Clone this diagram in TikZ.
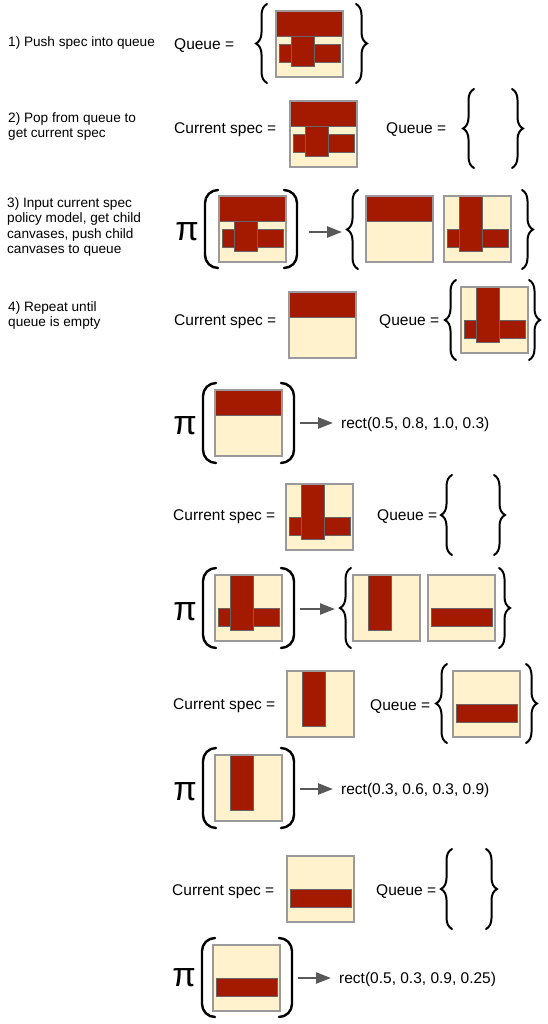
\documentclass[tikz,border=0pt]{standalone}
\usepackage{fontspec}
\setmainfont{Liberation Sans}
\usetikzlibrary{arrows.meta,decorations.pathreplacing}
\definecolor{cream}{HTML}{FFF2CC}
\definecolor{berry}{HTML}{A31A00}
\definecolor{rim}{HTML}{9A9A9A}
\definecolor{arrowgrey}{HTML}{595959}
\tikzset{
  sheet/.style={fill=cream},
  rimline/.style={draw=rim, line width=1.2pt},
  bar/.style={fill=berry, draw=black!60, line width=0.8pt},
  setbrace/.style={decorate, decoration={brace, amplitude=11pt}, line width=2pt, line cap=round},
  parline/.style={line width=2.4pt, rounded corners=13pt, line cap=round},
  flow/.style={draw=arrowgrey, line width=2.4pt, -{Triangle[length=15pt,width=11pt]}},
  steptext/.style={font=\fontsize{13.6}{15.6}\selectfont, align=left, anchor=north west, inner sep=0pt},
  label/.style={font=\fontsize{15.5}{18}\selectfont, anchor=base west, inner sep=0pt},
  result/.style={font=\fontsize{15.5}{18}\selectfont, anchor=base west, inner sep=0pt},
  policy/.style={font=\fontsize{34}{40}\selectfont, inner sep=0pt},
}
\def\spectop{\draw[bar] (0,0) rectangle (67,25.5);}
\def\specwide{\draw[bar] (3,33) rectangle (64,51);}
\def\spectall{\draw[bar] (15,0) rectangle (38,55);}
\def\canvas(#1,#2)#3{\begin{scope}[shift={(#1,#2)}]
  \fill[sheet] (0,0) rectangle (67,66); #3
  \draw[rimline] (0,0) rectangle (67,66);\end{scope}}
\def\openset(#1,#2,#3){\draw[setbrace] (#1,#3) -- (#1,#2);}
\def\closeset(#1,#2,#3){\draw[setbrace] (#1,#2) -- (#1,#3);}
\def\openpar(#1,#2,#3){\draw[parline] (#1+13,#2) -- (#1,#2) -- (#1,#3) -- (#1+13,#3);}
\def\closepar(#1,#2,#3){\draw[parline] (#1-13,#2) -- (#1,#2) -- (#1,#3) -- (#1-13,#3);}

\begin{document}
\begin{tikzpicture}[x=1pt,y=-1pt]
	%%%%% START %%%%%
	\useasboundingbox (0,0) rectangle (547,1024);
	
	\node[steptext] (step1) at (8,36) {1) Push spec into queue};
	\node[steptext] (step2) at (8,112) {2) Pop from queue to\\get current spec};
	\node[steptext] (step3) at (7,197) {3) Input current spec\\policy model, get child\\canvases, push child\\canvases to queue};
	\node[steptext] (step4) at (8,301) {4) Repeat until\\queue is empty};
	
	% 1
	\node[label] (q1) at (174,49.6) {Queue =};
	\openset(267,4,83)
	\canvas(276,11){\specwide\spectall\spectop}
	\closeset(356,4,83)
	
	% 2
	\node[label] (cur2) at (174,133.6) {Current spec =};
	\canvas(290,101){\specwide\spectall\spectop}
	\node[label] (q2) at (386,133.6) {Queue =};
	\openset(474,89,168)
	\closeset(512,89,168)
	
	% 3
	\node[policy] (pi3) at (187,232) {π};
	\openpar(205,190,268)
	\canvas(219,196){\specwide\spectall\spectop}
	\closepar(297,190,268)
	\coordinate (p3) at (309,232);
	\coordinate (s3) at (342,232);
	\draw[flow] (p3) -- (s3);
	\openset(358,190,269)
	\canvas(366,196){\spectop}
	\canvas(444,196){\specwide\spectall}
	\closeset(522,190,269)
	
	% 4
	\node[label] (cur4) at (174,325.6) {Current spec =};
	\canvas(289,292){\spectop}
	\node[label] (q4) at (379,325.6) {Queue =};
	\openset(456,280,360)
	\canvas(461,287){\specwide\spectall}
	\closeset(529,280,360)
	
	% 5
	\node[policy] (pi5) at (185,426) {π};
	\openpar(203,383,463)
	\canvas(215,390){\spectop}
	\closepar(294,383,463)
	\coordinate (p5) at (300,423);
	\node[result] (r5) at (341,428.4) {rect(0.5, 0.8, 1.0, 0.3)};
	\draw[flow, shorten >=8pt] (p5) -- (p5 -| r5.west);
	
	% 6
	\node[label] (cur6) at (173,520.6) {Current spec =};
	\canvas(286,484){\specwide\spectall}
	\node[label] (q6) at (377,520.6) {Queue =};
	\openset(452,475,555)
	\closeset(494,475,555)
	
	% 7
	\node[policy] (pi7) at (185,612) {π};
	\openpar(203,568,648)
	\canvas(215,575){\specwide\spectall}
	\closepar(294,568,648)
	\coordinate (p7) at (300,609);
	\coordinate (s7) at (335,609);
	\draw[flow] (p7) -- (s7);
	\openset(351,568,648)
	\canvas(353,575){\spectall}
	\canvas(428,575){\specwide}
	\closeset(499,568,648)
	
	% 8
	\node[label] (cur8) at (173,709.6) {Current spec =};
	\canvas(287,671){\spectall}
	\node[label] (q8) at (370,710) {Queue =};
	\openset(447,664,743)
	\canvas(453,671){\specwide}
	\closeset(526,664,743)
	
	% 9
	\node[policy] (pi9) at (185,792) {π};
	\openpar(203,748,828)
	\canvas(215,755){\spectall}
	\closepar(294,748,828)
	\coordinate (p9) at (300,789);
	\node[result] (r9) at (341,794.4) {rect(0.3, 0.6, 0.3, 0.9)};
	\draw[flow, shorten >=8pt] (p9) -- (p9 -| r9.west);
	
	% 10
	\node[label] (cur10) at (172,895.6) {Current spec =};
	\canvas(287,856){\specwide}
	\node[label] (q10) at (376,895.6) {Queue =};
	\openset(452,849,929)
	\closeset(486,849,929)
	
	% 11
	\node[policy] (pi11) at (184,978) {π};
	\openpar(202,938,1017)
	\canvas(213,945){\specwide}
	\closepar(292,938,1017)
	\coordinate (p11) at (298,978);
	\node[result] (r11) at (339,983.4) {rect(0.5, 0.3, 0.9, 0.25)};
	\draw[flow, shorten >=8pt] (p11) -- (p11 -| r11.west);
	
	%%%%% END %%%%%
\end{tikzpicture}
\end{document}
